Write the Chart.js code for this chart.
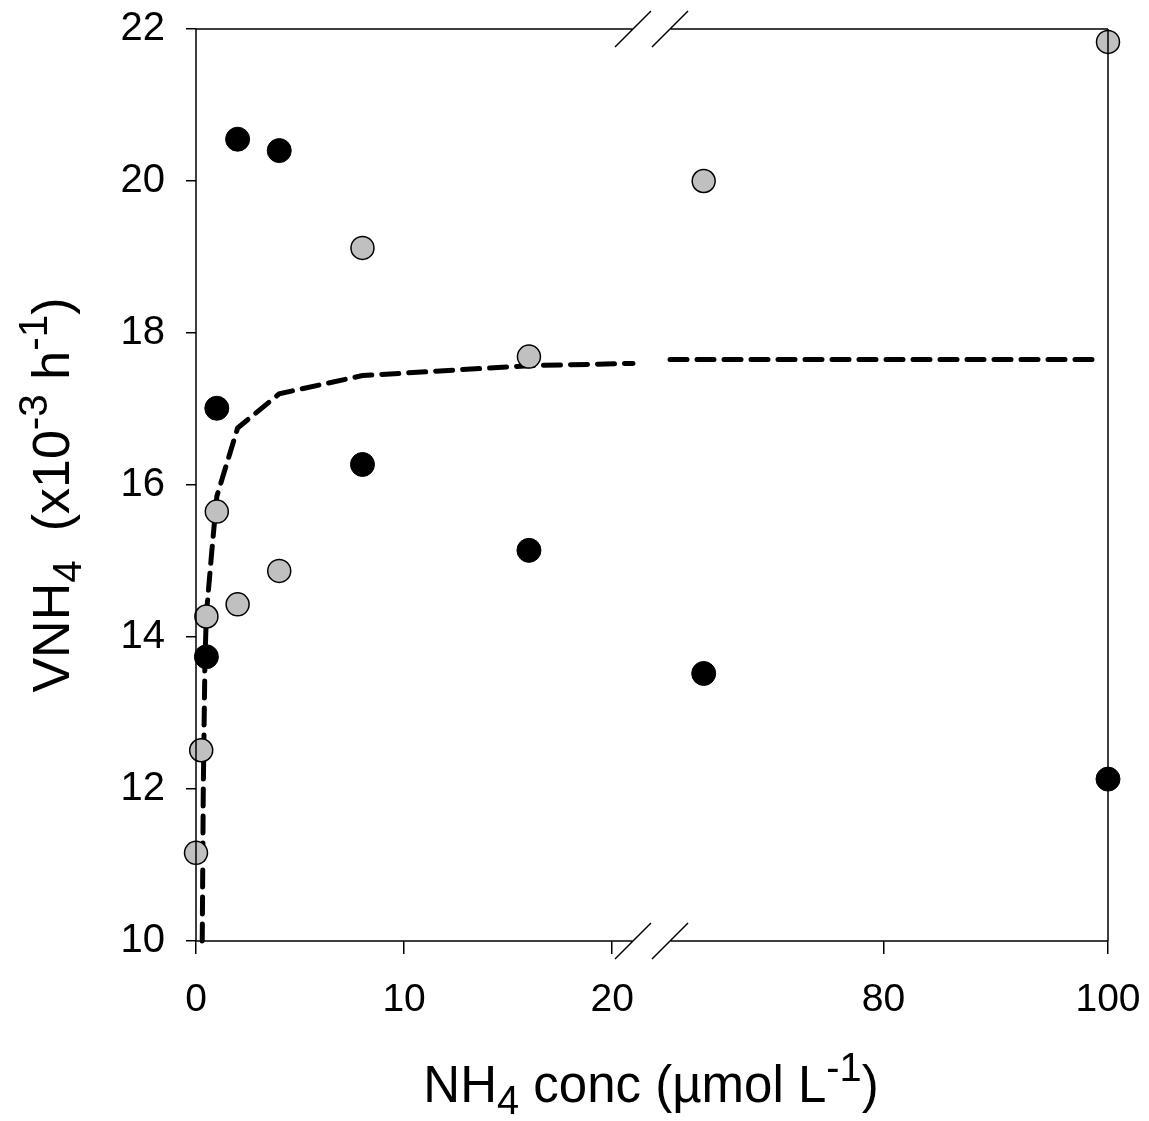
<!DOCTYPE html>
<html>
<head>
<meta charset="utf-8">
<script src="https://cdn.jsdelivr.net/npm/chart.js@4.4.1/dist/chart.umd.min.js"></script>
<style>
  body { margin: 0; background: #fff; }
  canvas { display: block; }
</style>
</head>
<body>
<canvas id="uptakeChart" width="1149" height="1121"></canvas>
<script>
// valores
const xTicks = [0, 10, 20, 80, 100];
const blackX = [0.5, 1, 2, 4, 8, 16, 64, 100];
const blackY = [13.74, 17.01, 20.55, 20.40, 16.27, 15.14, 13.52, 12.13];
const grayX = [0, 0.25, 0.5, 1, 2, 4, 8, 16, 64, 100];
const grayY = [11.16, 12.51, 14.27, 15.65, 14.43, 14.87, 19.12, 17.69, 20.0, 21.83];
// curva ajustada (tracejada), parte antes e depois da quebra
const fitLoX = [0.30, 0.35, 0.43, 0.5, 0.75, 1, 2, 4, 8, 16, 21];
const fitLoY = [10, 12, 13.7, 14.3, 15.1, 15.85, 16.75, 17.2, 17.44, 17.57, 17.6];
const fitHiX = [61, 99];
const fitHiY = [17.65, 17.65];

const FONT = '"Liberation Sans", Arial, sans-serif';

// eixo x quebrado: 0-21 e 61-100
const LO = [0, 21], HI = [61, 100];
const LO_END = 437 / 912, HI_START = 474 / 912;

function toFrac(v) {
  if (v <= LO[1]) return (v - LO[0]) / (LO[1] - LO[0]) * LO_END;
  if (v >= HI[0]) return HI_START + (v - HI[0]) / (HI[1] - HI[0]) * (1 - HI_START);
  return LO_END + (v - LO[1]) / (HI[0] - LO[1]) * (HI_START - LO_END);
}
function fromFrac(f) {
  if (f <= LO_END) return LO[0] + f / LO_END * (LO[1] - LO[0]);
  if (f >= HI_START) return HI[0] + (f - HI_START) / (1 - HI_START) * (HI[1] - HI[0]);
  return LO[1] + (f - LO_END) / (HI_START - LO_END) * (HI[0] - LO[1]);
}

class BrokenScale extends Chart.LinearScale {
  getPixelForValue(value) {
    return this.getPixelForDecimal(toFrac(value));
  }
  getValueForPixel(pixel) {
    return fromFrac(this.getDecimalForPixel(pixel));
  }
}
BrokenScale.id = 'broken';
BrokenScale.defaults = Chart.LinearScale.defaults;
Chart.register(BrokenScale);

const pts = (xs, ys) => xs.map((x, i) => ({ x: x, y: ys[i] }));

// texto com subscrito/sobrescrito
function drawRich(ctx, parts, size) {
  const small = size * 0.78;
  let total = 0;
  const widths = parts.map(([t, k]) => {
    ctx.font = (k ? small : size) + 'px ' + FONT;
    const w = ctx.measureText(t).width;
    total += w;
    return w;
  });
  let x = -total / 2;
  parts.forEach(([t, k], i) => {
    ctx.font = (k ? small : size) + 'px ' + FONT;
    const dy = k === 1 ? -size * 0.42 : (k === -1 ? size * 0.24 : 0);
    ctx.fillText(t, x, dy);
    x += widths[i];
  });
}

const framePlugin = {
  id: 'frame',
  afterDatasetsDraw(chart) {
    const ctx = chart.ctx;
    const a = chart.chartArea;
    const xs = chart.scales.x;
    const g1 = xs.getPixelForValue(LO[1]);
    const g2 = xs.getPixelForValue(HI[0]);
    ctx.save();
    ctx.strokeStyle = '#000';
    ctx.lineWidth = 1.5;
    ctx.beginPath();
    ctx.moveTo(a.left, a.top); ctx.lineTo(a.left, a.bottom);
    ctx.moveTo(a.right, a.top); ctx.lineTo(a.right, a.bottom);
    [a.top, a.bottom].forEach(y => {
      ctx.moveTo(a.left, y); ctx.lineTo(g1, y);
      ctx.moveTo(g2, y); ctx.lineTo(a.right, y);
      [g1, g2].forEach(gx => {
        ctx.moveTo(gx - 18, y + 18); ctx.lineTo(gx + 18, y - 18);
      });
    });
    ctx.stroke();

    // titulos dos eixos
    ctx.fillStyle = '#000';
    ctx.textBaseline = 'alphabetic';
    ctx.textAlign = 'left';
    ctx.save();
    ctx.translate(651, 1102);
    drawRich(ctx, [['NH', 0], ['4', -1], [' conc (\u00b5mol L', 0], ['-1', 1], [')', 0]], 51);
    ctx.restore();
    ctx.save();
    ctx.translate(69, 495);
    ctx.rotate(-Math.PI / 2);
    drawRich(ctx, [['VNH', 0], ['4', -1], ['  (x10', 0], ['-3', 1], [' h', 0], ['-1', 1], [')', 0]], 52);
    ctx.restore();
    ctx.restore();
  }
};

const ctxUptake = document.getElementById('uptakeChart').getContext('2d');
const uptakeChart = new Chart(ctxUptake, {
  type: 'scatter',
  data: {
    datasets: [{
      data: pts(blackX, blackY),
      backgroundColor: '#000',
      borderColor: '#000',
      borderWidth: 1,
      pointRadius: 12,
      clip: false,
      order: 1
    }, {
      data: pts(grayX, grayY),
      backgroundColor: '#c0c0c0',
      borderColor: '#000',
      borderWidth: 1.5,
      pointRadius: 11.5,
      clip: false,
      order: 1
    }, {
      type: 'line',
      data: pts(fitLoX, fitLoY),
      borderColor: '#000',
      borderWidth: 5,
      borderDash: [17, 10],
      borderCapStyle: 'round',
      pointRadius: 0,
      tension: 0,
      fill: false,
      clip: false,
      order: 2
    }, {
      type: 'line',
      data: pts(fitHiX, fitHiY),
      borderColor: '#000',
      borderWidth: 5,
      borderDash: [17, 10],
      borderCapStyle: 'round',
      pointRadius: 0,
      tension: 0,
      fill: false,
      clip: false,
      order: 2
    }]
  },
  options: {
    responsive: false,
    animation: false,
    devicePixelRatio: 1,
    layout: { padding: { top: 29, right: 41, left: 0, bottom: 0 } },
    plugins: { legend: { display: false }, tooltip: { enabled: false } },
    scales: {
      x: {
        type: 'broken',
        min: 0,
        max: 100,
        afterBuildTicks: s => { s.ticks = xTicks.map(v => ({ value: v })); },
        afterFit: s => { s.height = 180; s.paddingLeft = 0; s.paddingRight = 0; },
        ticks: {
          autoSkip: false,
          maxRotation: 0,
          padding: 23,
          color: '#000',
          font: { family: FONT, size: 39 },
          callback: v => String(v)
        },
        grid: { drawOnChartArea: false, tickLength: 13, color: '#000', lineWidth: 1.5 },
        border: { display: false }
      },
      y: {
        min: 10,
        max: 22,
        afterFit: s => { s.width = 196; s.paddingTop = 0; s.paddingBottom = 0; },
        ticks: {
          stepSize: 2,
          padding: 21,
          color: '#000',
          font: { family: FONT, size: 40 }
        },
        grid: { drawOnChartArea: false, tickLength: 10, color: '#000', lineWidth: 1.5 },
        border: { display: false }
      }
    }
  },
  plugins: [framePlugin]
});
</script>
</body>
</html>
